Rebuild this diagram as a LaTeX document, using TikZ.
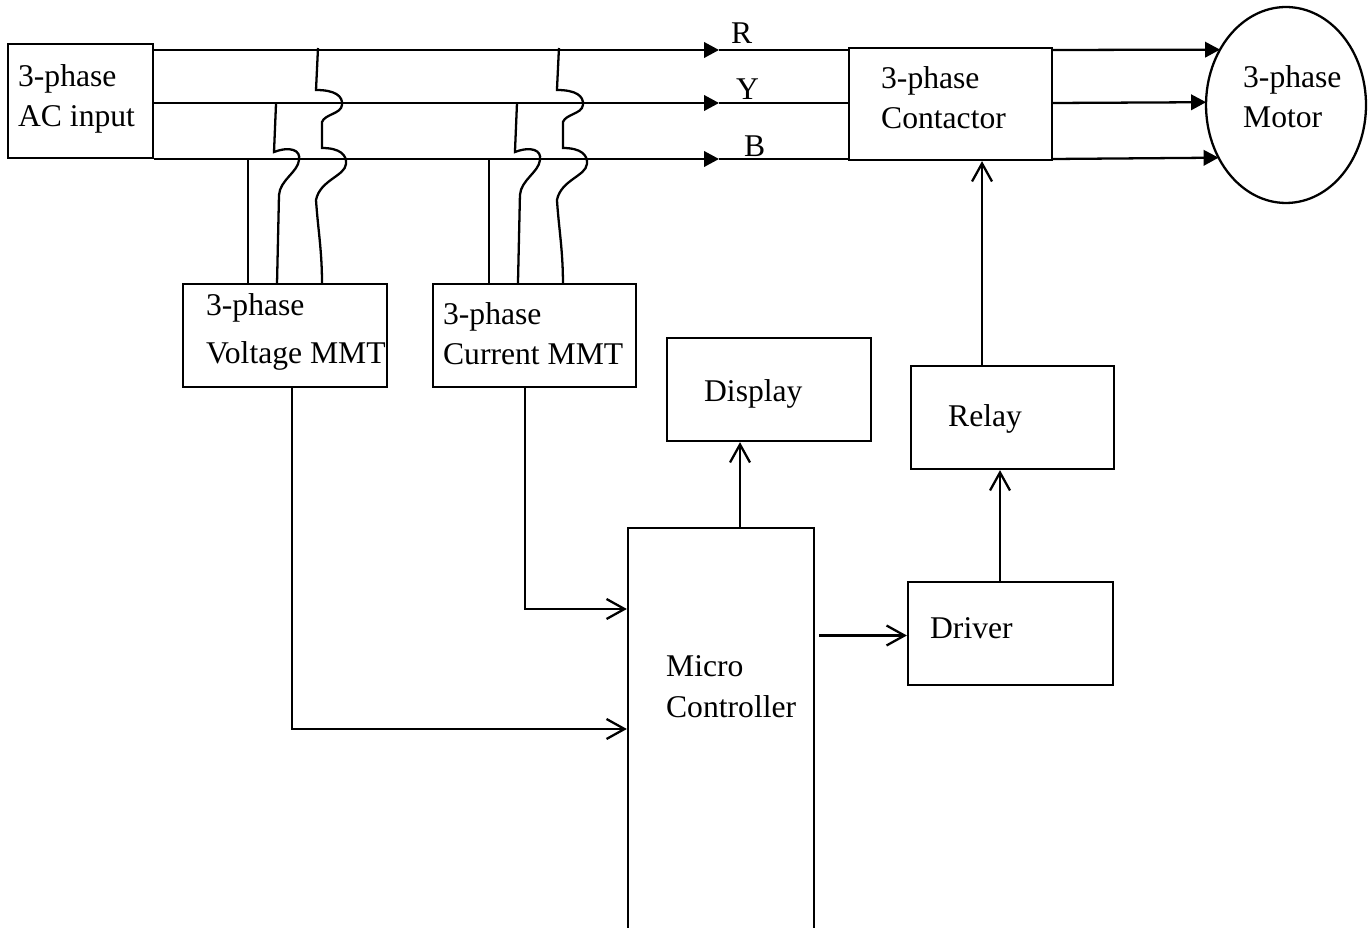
\documentclass[tikz,border=0pt]{standalone}
\usepackage{fontspec}
\setmainfont{Liberation Serif}
\usetikzlibrary{arrows.meta,positioning,calc,shapes.geometric}

\begin{document}
\begin{tikzpicture}[x=0.02cm,y=-0.02cm,line width=1.3pt,
  box/.style={draw,rectangle,inner sep=0pt},
  lbl/.style={anchor=base west,align=left,inner sep=0pt,font=\fontsize{18}{23.3}\selectfont},
  wire/.style={-{Triangle[length=3mm,width=3.1mm]}},
  ctl/.style={-{Straight Barb[length=3.6mm,width=4mm]}}]
\useasboundingbox (0,0) rectangle (1368,928);
% blocks
\node[box,minimum width=2.9cm,minimum height=2.28cm] (ac) at (80.5,101) {};
\node[box,minimum width=4.06cm,minimum height=2.24cm] (con) at (950.5,104) {};
\node[ellipse,draw,inner sep=0pt,outer sep=0pt,minimum width=3.2cm,minimum height=3.92cm] (motor) at (1286,105) {};
\node[box,minimum width=4.08cm,minimum height=2.06cm] (vmmt) at (285,335.5) {};
\node[box,minimum width=4.06cm,minimum height=2.06cm] (cmmt) at (534.5,335.5) {};
\node[box,minimum width=4.08cm,minimum height=2.06cm] (disp) at (769,389.5) {};
\node[box,minimum width=4.06cm,minimum height=2.06cm] (relay) at (1012.5,417.5) {};
\node[box,minimum width=3.72cm,minimum height=8.44cm] (mcu) at (721,739) {};
\node[box,minimum width=4.1cm,minimum height=2.06cm] (drv) at (1010.5,633.5) {};
% texts (base = last line)
\node[lbl] (actxt) at (17,127) {3-phase\\AC input};
\node[lbl] (contxt) at (880,129) {3-phase\\Contactor};
\node[lbl] (mottxt) at (1242,128) {3-phase\\Motor};
\node[lbl] (vtxt) at (205,364) {3-phase\\[0.16cm]Voltage MMT};
\node[lbl] (ctxt) at (442,365) {3-phase\\Current MMT};
\node[lbl] (disptxt) at (703,402) {Display};
\node[lbl] (reltxt) at (947,427) {Relay};
\node[lbl] (drvtxt) at (929,638) {Driver};
\node[lbl] (mcutxt) at (665,717) {Micro\\Controller};
\node[lbl] (rlbl) at (730,44) {R};
\node[lbl] (ylbl) at (735,100) {Y};
\node[lbl] (blbl) at (743,157) {B};
% three phase lines
\foreach \p/\y/\a in {R/50/140.3,Y/103/178.6,B/159/218.9} {
  \coordinate (t\p) at (719,\y);
  \draw[wire] (ac.east |- t\p) -- (t\p);
  \draw (t\p) -- (con.west |- t\p);
  \draw[wire] (con.east |- t\p) -- (motor.\a);
}
% taps to the measuring blocks
\foreach \s in {0,4.82} {
\begin{scope}[xshift=\s cm]
\draw (248,159) -- (248,284);
\draw (276,104) -- (274,152) .. controls (290,146) and (301,150) .. (299,160)
  .. controls (298,172) and (280,180) .. (279,195) -- (277,284);
\draw (318,48) -- (316,90) .. controls (335,90) and (343,96) .. (342,105)
  .. controls (341,114) and (325,114) .. (322,122) -- (322,148)
  .. controls (340,148) and (347,155) .. (346,164)
  .. controls (345,176) and (320,180) .. (316,200)
  .. controls (318,230) and (322,250) .. (322,284);
\end{scope}
}
% control signals
\coordinate (drvup) at ($(drv.north)+(-10.5,0)$);
\coordinate (relup) at ($(relay.north)+(-30.5,0)$);
\draw[ctl] ($(vmmt.south)+(7,0)$) |- ($(mcu.west)+(0,-10)$);
\draw[ctl] ($(cmmt.south)+(-9.5,0)$) |- ($(mcu.west)+(0,-130)$);
\draw[ctl] ($(mcu.north)+(19,0)$) -- ($(disp.south)+(-29,0)$);
\draw[ctl] ($(mcu.east |- drv.west)+(4,2)$) -- ($(drv.west)+(0,2)$);
\draw[ctl] (drvup) -- (drvup |- relay.south);
\draw[ctl] (relup) -- (relup |- con.south);
\end{tikzpicture}
\end{document}
